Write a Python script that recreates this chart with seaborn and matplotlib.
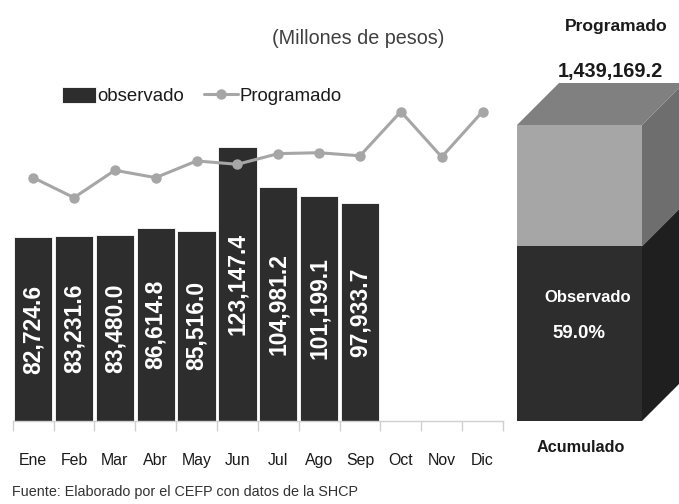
import numpy as np
import pandas as pd
import matplotlib
matplotlib.use("Agg")
import matplotlib.pyplot as plt
from matplotlib.patches import Polygon
import seaborn as sns

# datos (millones de pesos)
meses = ["Ene", "Feb", "Mar", "Abr", "May", "Jun", "Jul", "Ago", "Sep", "Oct", "Nov", "Dic"]
observado = [82724.6, 83231.6, 83480.0, 86614.8, 85516.0, 123147.4, 104981.2, 101199.1, 97933.7]
programado = [109400, 100400, 112700, 109400, 116900, 115400, 120200, 120600, 119200, 139100, 118700, 139100]
total_programado = 1439169.2

OSCURO = "#2d2d2d"
GRIS = "#a6a6a6"
TEXTO = "#1a1a1a"

sns.set_theme(style="white")
plt.rcParams["font.family"] = ["Liberation Sans", "DejaVu Sans"]

W, H = 679, 504
fig = plt.figure(figsize=(W / 100, H / 100), dpi=100)
ax = fig.add_axes([12.7 / W, 1 - 421 / H, 490.3 / W, 321 / H])

df = pd.DataFrame({"mes": meses[:len(observado)], "observado": observado})
sns.barplot(data=df, x="mes", y="observado", order=meses, color=OSCURO,
            saturation=1, width=0.94, edgecolor="white", linewidth=0.6,
            errorbar=None, ax=ax)
sns.lineplot(x=meses, y=programado, sort=False, color=GRIS, lw=2.2,
             marker="o", markersize=7.5, markeredgewidth=0, ax=ax)

barras = ax.containers[0]
ax.bar_label(barras, labels=[f"{b.get_height():,.1f}" for b in barras],
             label_type="center", rotation=90, color="white", fontsize=16.5,
             fontweight="bold")

ax.set_xlim(-0.5, len(meses) - 0.5)
ax.set_ylim(0, 144300)
ax.set_xlabel("")
ax.set_ylabel("")
ax.set_yticks([])
for s in ["top", "left", "right"]:
    ax.spines[s].set_visible(False)
ax.spines["bottom"].set_color("#d0d0d0")
ax.spines["bottom"].set_linewidth(1)
ax.set_xticks(np.arange(-0.5, len(meses), 1), minor=True)
ax.tick_params(axis="x", which="minor", bottom=True, length=7, width=1,
               color="#d0d0d0", direction="out")
ax.tick_params(axis="x", which="major", bottom=True, length=0, pad=23,
               labelsize=11.4, labelcolor=TEXTO)

ax.legend(handles=[barras, ax.lines[0]], labels=["observado", "Programado"],
          ncol=2, frameon=False, fontsize=13.4, handlelength=1.83,
          handleheight=1.0, handletextpad=0.05, columnspacing=1.1,
          loc="center left", bbox_to_anchor=(62 / W, 1 - 96 / H),
          bbox_transform=fig.transFigure, borderpad=0, borderaxespad=0,
          labelcolor=TEXTO)

# bloque acumulado (coordenadas en pixeles)
bx = fig.add_axes([0, 0, 1, 1])
bx.set_xlim(0, W)
bx.set_ylim(H, 0)
bx.axis("off")
bx.patch.set_alpha(0)

x0, x1, top, base, d = 517, 642, 125, 421, 42
frac = sum(observado) / total_programado
corte = base - frac * (base - top)
caras = [
    ([(x0, corte), (x1, corte), (x1, base), (x0, base)], OSCURO),
    ([(x0, top), (x1, top), (x1, corte), (x0, corte)], GRIS),
    ([(x0, top), (x1, top), (x1 + d, top - d), (x0 + d, top - d)], "#808080"),
    ([(x1, top), (x1 + d, top - d), (x1 + d, corte - d), (x1, corte)], "#6e6e6e"),
    ([(x1, corte), (x1 + d, corte - d), (x1 + d, base - d), (x1, base)], "#1f1f1f"),
]
for pts, c in caras:
    bx.add_patch(Polygon(pts, closed=True, facecolor=c, edgecolor="none"))

bx.text(358, 38, "(Millones de pesos)", ha="center", va="center", fontsize=14.2,
        color="#404040")
bx.text(616, 26, "Programado", ha="center", va="center", fontsize=12.6,
        fontweight="bold", color=TEXTO)
bx.text(610, 71, f"{total_programado:,.1f}", ha="center", va="center",
        fontsize=14.3, fontweight="bold", color=TEXTO)
bx.text(588, 297, "Observado", ha="center", va="center", fontsize=12,
        fontweight="bold", color="white")
bx.text(579, 334, f"{frac * 100:.1f}%", ha="center", va="center",
        fontsize=13.4, fontweight="bold", color="white")
bx.text(581, 447, "Acumulado", ha="center", va="center", fontsize=11.7,
        fontweight="bold", color=TEXTO)
bx.text(12, 492, "Fuente: Elaborado por el CEFP con datos de la SHCP",
        ha="left", va="center", fontsize=10.4, color="#333333")

fig.savefig("out.png", dpi=100)
